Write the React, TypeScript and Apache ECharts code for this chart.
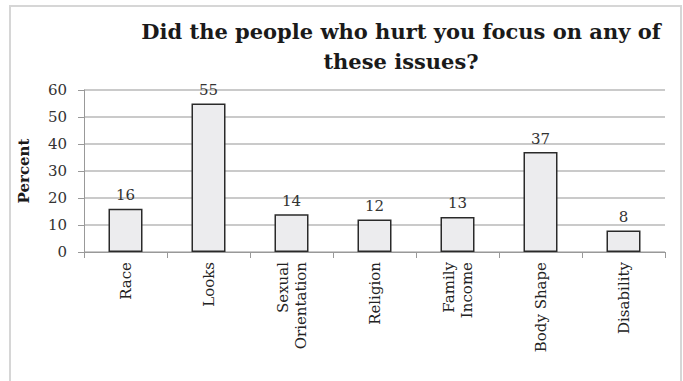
import React, { useEffect, useRef } from "react";
import * as echarts from "echarts";

const categories = ["Race", "Looks", "Sexual\nOrientation", "Religion", "Family\nIncome", "Body Shape", "Disability"];
const values = [16, 55, 14, 12, 13, 37, 8];
const titleText = "Did the people who hurt you focus on any of\nthese issues?";
const yAxisName = "Percent";

export default function App() {
  const ref = useRef<HTMLDivElement>(null);
  useEffect(() => {
    const chart = echarts.init(ref.current!, null, { renderer: "svg" });
    const serif = "'DejaVu Serif', serif";
    chart.setOption({
      animation: false,
      backgroundColor: "#ffffff",
      title: {
        text: titleText,
        left: 396,
        top: 11,
        textAlign: "center",
        textStyle: { fontFamily: serif, fontWeight: "bold", fontSize: 21, color: "#1a1a1a", lineHeight: 30 },
      },
      graphic: [
        {
          type: "rect",
          shape: { x: 10, y: 6, width: 671, height: 400 },
          style: { fill: "none", stroke: "#d6d6d6", lineWidth: 2 },
          silent: true,
        },
      ],
      grid: { left: 84, right: 18, top: 90, bottom: 129 },
      xAxis: {
        type: "category",
        data: categories,
        axisLine: { lineStyle: { color: "#999", width: 1 } },
        axisTick: { show: true, alignWithLabel: false, length: 6, lineStyle: { color: "#999" } },
        axisLabel: {
          rotate: 90,
          interval: 0,
          margin: 10,
          fontFamily: serif,
          fontSize: 15,
          color: "#222",
          lineHeight: 18,
          align: "right",
        },
      },
      yAxis: {
        type: "value",
        min: 0,
        max: 60,
        interval: 10,
        name: yAxisName,
        nameLocation: "middle",
        nameGap: 53,
        nameTextStyle: { fontFamily: serif, fontWeight: "bold", fontSize: 15, color: "#1a1a1a" },
        axisLine: { show: true, lineStyle: { color: "#999" } },
        axisTick: { show: true, length: 6, lineStyle: { color: "#999" } },
        axisLabel: { fontFamily: serif, fontSize: 15, color: "#333", margin: 17 },
        splitLine: { lineStyle: { color: "#b8b8b8", width: 1.5 } },
      },
      series: [
        {
          type: "bar",
          data: values,
          barWidth: 34,
          itemStyle: { color: "#ececee", borderColor: "#2a2a2a", borderWidth: 1.5 },
          label: {
            show: true,
            position: "top",
            distance: 6,
            fontFamily: serif,
            fontSize: 15,
            color: "#333",
          },
        },
      ],
    });
    return () => chart.dispose();
  }, []);
  return <div ref={ref} style={{ position: "fixed", left: 0, top: 0, width: 683, height: 381 }} />;
}
